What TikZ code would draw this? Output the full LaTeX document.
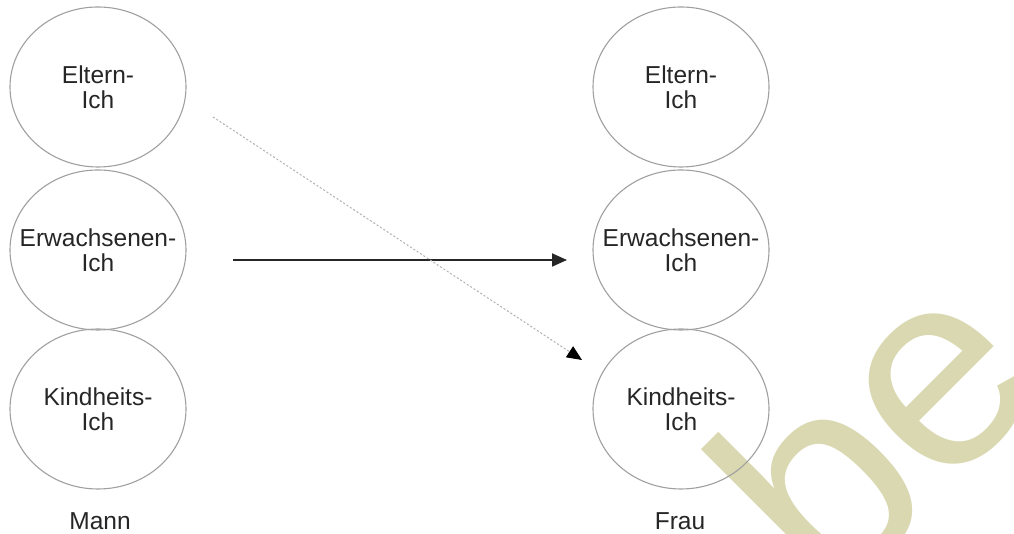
\documentclass[tikz,border=0pt]{standalone}
\usepackage{fontspec}
\setmainfont{Liberation Sans}
\usetikzlibrary{shapes.geometric,arrows.meta}
\definecolor{wmark}{RGB}{217,216,176}
\definecolor{ringgray}{RGB}{160,160,160}
\tikzset{
  ego/.style={ellipse, draw=ringgray, line width=1.1pt, minimum width=176pt, minimum height=160pt,
    inner sep=-40pt, align=center, font=\fontsize{24.5}{25}\selectfont, text=black!85},
  who/.style={font=\fontsize{24.5}{25}\selectfont, text=black!85, inner sep=0pt},
  solidarrow/.style={line width=1.8pt, draw=black!85, -{Triangle[length=15pt,width=13pt]}},
  dotarrow/.style={line width=1pt, draw=gray!60, dash pattern=on 2pt off 2pt, -{Triangle[length=15pt,width=13pt,fill=black,color=black]}},
}
\begin{document}
\begin{tikzpicture}[x=1pt,y=1pt]
\useasboundingbox (0,0) rectangle (1014,534);
\clip (0,0) rectangle (1014,534);
\fill[white] (0,0) rectangle (1014,534);
% watermark
\node[rotate=45, anchor=base west, inner sep=0pt, text=wmark, font=\fontsize{280}{280}\selectfont] (wm) at (831,-73) {be};
% Mann
\node[ego] (mE) at (98,447) {Eltern-\\Ich};
\node[ego] (mA) at (98,284) {Erwachsenen-\\Ich};
\node[ego] (mK) at (98,125) {Kindheits-\\Ich};
\node[who] (mann) at (100,13) {Mann};
% Frau
\node[ego] (fE) at (681,447) {Eltern-\\Ich};
\node[ego] (fA) at (681,284) {Erwachsenen-\\Ich};
\node[ego] (fK) at (681,125) {Kindheits-\\Ich};
\node[who] (frau) at (680,13) {Frau};
% connectors
\coordinate (s1) at (233,274);
\coordinate (s2) at (567,274);
\coordinate (d1) at (213,417);
\coordinate (d2) at (582,174);
\draw[solidarrow] (s1) -- (s2);
\draw[dotarrow] (d1) -- (d2);
\end{tikzpicture}
\end{document}
